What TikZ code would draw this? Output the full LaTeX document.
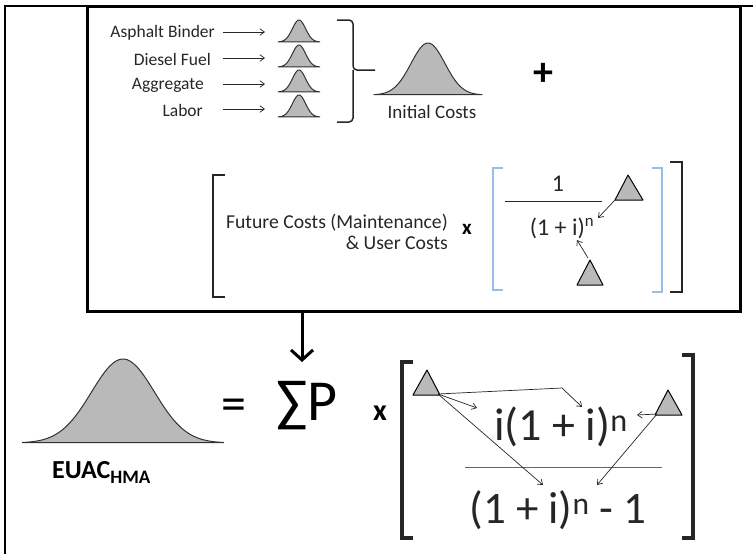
\documentclass[tikz,border=0pt]{standalone}
\usepackage{fontspec}
\setmainfont{Carlito}
\usetikzlibrary{arrows.meta}
\definecolor{bellgray}{RGB}{185,185,185}
\definecolor{lblue}{RGB}{150,190,230}
\newcommand{\drawbell}[4]{%
  \filldraw[fill=bellgray, draw=black!80, line width=1pt]
    plot[domain=-3.2:3.2, samples=70, smooth] ({#1+(\x)*#3},{#2-#4*exp(-((\x)^2)/2)}) -- cycle;}
\begin{document}
\begin{tikzpicture}[x=1pt,y=-1pt,
  thinarrow/.style={-{Straight Barb[length=4.5pt,width=6.5pt]}, line width=0.7pt, black!85},
  tri/.style={fill=bellgray, draw=black, line width=1pt, line join=round},
  lbl/.style={inner sep=0pt, anchor=east, font=\fontsize{17.5}{20}\selectfont, text=black!85},
  brk/.style={line width=2.5pt, black!85},
  bbrk/.style={line width=1.5pt, lblue},
  bigbrk/.style={line width=4pt, black!85},
]
\useasboundingbox (0,0) rectangle (753,554);
\begin{scope}
\clip (0,0) rectangle (753,554);
\draw[line width=2.5pt] (5,600) -- (5,6) -- (800,6);
\end{scope}
\draw[line width=3pt] (87,6) rectangle (740,311);
% material labels
\node[lbl] (asph) at (215,33) {Asphalt Binder};
\node[lbl] (dies) at (211,59) {Diesel Fuel};
\node[lbl] (aggr) at (204,85) {Aggregate};
\node[lbl] (labo) at (203,110) {Labor};
\foreach \yy/\nm in {32/a,58/b,84/c,109/d}{
  \coordinate (s\nm) at (223,\yy);
  \coordinate (e\nm) at (265,\yy);
  \draw[thinarrow] (s\nm) -- (e\nm);
}
\drawbell{299}{42}{6.6}{22}
\drawbell{299}{67}{6.6}{22}
\drawbell{299}{92}{6.6}{22}
\drawbell{299}{117}{6.6}{22}
% brace
\draw[line width=1.5pt, black!85, rounded corners=4pt] (337,20) -| (353,70) -- (375,70);
\draw[line width=1.5pt, black!85, rounded corners=4pt] (337,122) -| (353,70);
% initial costs
\drawbell{428}{95}{17}{52}
\node[font=\fontsize{19}{22}\selectfont, text=black!85] (init) at (432,112) {Initial Costs};
\node[font=\bfseries\fontsize{40}{44}\selectfont] (plus) at (543,74) {+};
% future costs
\draw[brk] (225,175) -- (213,175) -- (213,297) -- (225,297);
\node[font=\fontsize{19.7}{21}\selectfont, align=right, anchor=east, inner sep=0pt, text=black!85] (fut) at (448,232) {Future Costs (Maintenance)\\\& User Costs};
\node[font=\bfseries\fontsize{21}{24}\selectfont] (x1) at (467,229) {x};
\draw[bbrk] (503,168) -- (493,168) -- (493,290) -- (503,290);
\draw[bbrk] (652,168) -- (662,168) -- (662,292) -- (652,292);
\draw[brk] (670,162) -- (682,162) -- (682,292) -- (670,292);
\node[font=\fontsize{24}{28}\selectfont, text=black!85] (one) at (558,184) {1};
\draw[line width=1pt, black!85] (505,201) -- (602,201);
\node[font=\fontsize{24}{28}\selectfont, text=black!85] (den1) at (562,228) {(1 + i)\textsuperscript{n}};
\draw[tri] (628,175) -- (643,200) -- (615,200) -- cycle;
\draw[tri] (590,260) -- (603,285) -- (577,285) -- cycle;
\coordinate (t1) at (616,199);
\coordinate (t1e) at (598,218);
\coordinate (t2) at (588,258);
\coordinate (t2e) at (577,240);
\draw[thinarrow] (t1) -- (t1e);
\draw[thinarrow] (t2) -- (t2e);
% down arrow
\coordinate (boxb) at (302,311);
\coordinate (sumtop) at (302,362);
\draw[line width=3pt, -{Straight Barb[length=10pt,width=22pt,line width=3pt]}] (boxb) -- (sumtop);
% EUAC
\drawbell{123}{443}{31.5}{84}
\node[font=\bfseries\fontsize{26}{30}\selectfont, anchor=base west, inner sep=0pt] (euac) at (52,478) {EUAC\raisebox{-5pt}{\fontsize{19}{20}\selectfont HMA}};
\node[font=\fontsize{50}{56}\selectfont] (eq) at (234,410) {=};
\node[font=\fontsize{58}{64}\selectfont] (sum) at (307,406) {∑P};
\node[font=\bfseries\fontsize{30}{34}\selectfont] (x2) at (380,413) {x};
% big brackets
\draw[bigbrk] (413,362) -- (402,362) -- (402,538) -- (413,538);
\draw[bigbrk] (682,355) -- (693,355) -- (693,538) -- (682,538);
\node[font=\fontsize{46}{52}\selectfont, text=black!85] (num) at (561,427) {i(1 + i)\textsuperscript{n}};
\draw[line width=1pt, black!60] (465,467) -- (662,467);
\node[font=\fontsize{45}{52}\selectfont, text=black!85] (den2) at (558,510) {(1 + i)\textsuperscript{n} - 1};
\draw[tri] (427,370) -- (440,395) -- (413,395) -- cycle;
\draw[tri] (668,390) -- (682,415) -- (655,415) -- cycle;
\coordinate (L0) at (438,394);
\coordinate (Lc) at (562,388);
\coordinate (La) at (582,407);
\coordinate (Lb) at (477,408);
\coordinate (Ld) at (543,485);
\coordinate (R0) at (657,414);
\coordinate (Ra) at (637,415);
\coordinate (Rb) at (597,485);
\draw[thinarrow] (L0) -- (Lc) -- (La);
\draw[thinarrow] (L0) -- (Lb);
\draw[thinarrow] (L0) -- (Ld);
\draw[thinarrow] (R0) -- (Ra);
\draw[thinarrow] (R0) -- (Rb);
\end{tikzpicture}
\end{document}
